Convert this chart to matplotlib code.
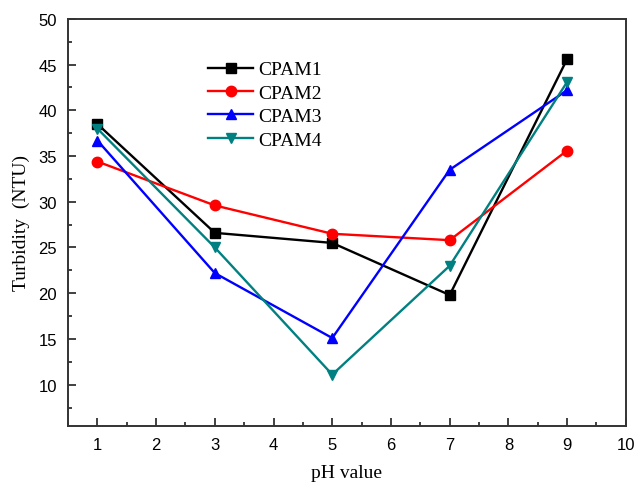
import matplotlib
matplotlib.use('Agg')
import matplotlib.pyplot as plt
from matplotlib.ticker import MultipleLocator

ph = [1, 3, 5, 7, 9]
cpam1 = [38.5, 26.6, 25.5, 19.8, 45.6]
cpam2 = [34.4, 29.6, 26.5, 25.8, 35.6]
cpam3 = [36.7, 22.2, 15.1, 33.5, 42.2]
cpam4 = [38.0, 25.0, 11.1, 23.0, 43.1]

series = [
    ('CPAM1', cpam1, 'black', 's'),
    ('CPAM2', cpam2, 'red', 'o'),
    ('CPAM3', cpam3, 'blue', '^'),
    ('CPAM4', cpam4, '#008080', 'v'),
]

fig = plt.figure(figsize=(6.36, 4.85), dpi=100)
ax = fig.add_axes([0.107, 0.12, 0.877, 0.839])

for name, vals, color, marker in series:
    ax.plot(ph, vals, color=color, marker=marker, markersize=7.5,
            linewidth=1.7, label=name)

ax.set_xlim(0.5, 10)
ax.set_ylim(5.5, 50)
ax.xaxis.set_major_locator(MultipleLocator(1))
ax.xaxis.set_minor_locator(MultipleLocator(0.5))
ax.yaxis.set_major_locator(MultipleLocator(5))
ax.yaxis.set_minor_locator(MultipleLocator(2.5))
ax.tick_params(which='both', direction='in', top=False, right=False,
               width=1.3, color='#333333')
ax.tick_params(which='major', length=6, labelsize=12, pad=8)
ax.tick_params(which='minor', length=3)
for lab in ax.get_xticklabels() + ax.get_yticklabels():
    lab.set_fontfamily('Liberation Sans')
for sp in ax.spines.values():
    sp.set_linewidth(1.4)
    sp.set_color('#333333')

ax.set_xlabel('pH value', family='Liberation Serif', fontsize=14, labelpad=9)
ax.set_ylabel('Turbidity  (NTU)', family='Liberation Serif', fontsize=14,
              labelpad=6)

ax.legend(loc='upper left', bbox_to_anchor=(0.22, 0.94), frameon=False,
          prop={'family': 'Liberation Serif', 'size': 14},
          handlelength=2.3, labelspacing=0.3, handletextpad=0.25)

fig.savefig('out.png', dpi=100)
